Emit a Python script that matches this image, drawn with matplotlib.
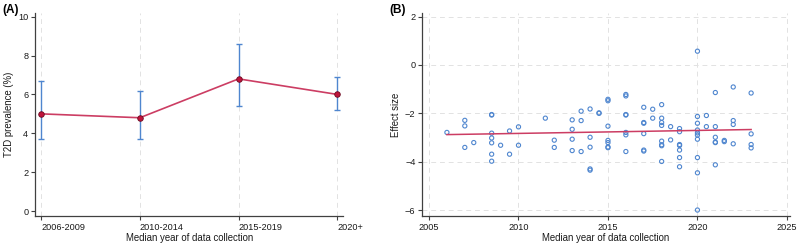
import numpy as np
import matplotlib.pyplot as plt
import matplotlib.transforms as mtransforms

plt.rcParams['font.family'] = ['Liberation Sans', 'DejaVu Sans']

# Panel A: prevalence by period
periods = ['2006-2009', '2010-2014', '2015-2019', '2020+']
prev = [5.0, 4.8, 6.8, 6.0]
prev_lo = [3.7, 3.7, 5.4, 5.2]
prev_hi = [6.7, 6.2, 8.6, 6.9]

# Panel B: effect sizes by median year
years = [2006, 2007, 2007, 2007, 2007.5,
         2008.5, 2008.5, 2008.5, 2008.5, 2008.5, 2008.5, 2008.5, 2009,
         2009.5, 2009.5, 2010, 2010,
         2011.5, 2012, 2012, 2013, 2013, 2013, 2013,
         2013.5, 2013.5, 2013.5, 2014, 2014, 2014, 2014, 2014, 2014.5, 2014.5,
         2015, 2015, 2015, 2015, 2015, 2015, 2015,
         2016, 2016, 2016, 2016, 2016, 2016, 2016,
         2017, 2017, 2017, 2017, 2017, 2017, 2017.5, 2017.5,
         2018, 2018, 2018, 2018, 2018, 2018, 2018, 2018, 2018.5, 2018.5,
         2019, 2019, 2019, 2019, 2019, 2019, 2019,
         2020, 2020, 2020, 2020, 2020, 2020, 2020, 2020, 2020, 2020,
         2020.5, 2020.5,
         2021, 2021, 2021, 2021, 2021, 2021, 2021.5, 2021.5,
         2022, 2022, 2022, 2022, 2023, 2023, 2023, 2023]
effects = [-2.79, -2.29, -2.52, -3.41, -3.21,
           -2.07, -2.05, -2.82, -3.02, -3.22, -3.69, -3.98, -3.32,
           -2.73, -3.69, -2.56, -3.32,
           -2.20, -3.11, -3.41, -2.27, -2.66, -3.07, -3.54,
           -1.91, -2.30, -3.58, -1.82, -2.99, -3.40, -4.30, -4.35, -1.98, -2.00,
           -1.42, -1.48, -2.53, -3.12, -3.21, -3.39, -3.42,
           -1.22, -1.28, -2.05, -2.07, -2.79, -2.89, -3.58,
           -1.75, -2.38, -2.41, -2.84, -3.52, -3.56, -1.83, -2.20,
           -1.64, -2.20, -2.38, -2.50, -3.15, -3.30, -3.34, -3.99, -2.55, -3.10,
           -2.63, -2.76, -3.29, -3.33, -3.52, -3.83, -4.21,
           0.57, -2.13, -2.41, -2.69, -2.81, -2.90, -3.07, -3.83, -4.46, -6.00,
           -2.09, -2.55,
           -1.14, -2.55, -2.99, -3.19, -4.13, -3.21, -3.12, -3.17,
           -0.91, -2.30, -2.46, -3.26, -1.16, -2.85, -3.29, -3.43]
fit_years = [2006, 2023]
fit_values = [-2.88, -2.67]

blue = '#4f86cf'
red = '#cc3d63'
ink = '#1a1a1a'
fs = 6.6
grid_kw = dict(color='#e2e2e2', linestyle=(0, (5, 4)), linewidth=0.7)

fig = plt.figure(figsize=(8, 2.45), dpi=100)
axA = fig.add_axes([0.044, 0.118, 0.385, 0.829])
axB = fig.add_axes([0.528, 0.118, 0.459, 0.829])

# ---- Panel A ----
xs = np.arange(1, len(periods) + 1)
prev = np.array(prev)
yerr = [prev - np.array(prev_lo), np.array(prev_hi) - prev]
for x in xs:
    axA.axvline(x, zorder=0, **grid_kw)
axA.errorbar(xs, prev, yerr=yerr, fmt='none', ecolor=blue, elinewidth=1.0,
             capsize=2.2, capthick=1.0, zorder=2)
axA.plot(xs, prev, color=red, lw=1.2, zorder=3)
axA.plot(xs, prev, 'o', color='#c0143c', mec='#6a0a20', mew=0.6, ms=4.0, zorder=4)
axA.set_xlim(0.94, 4.06)
axA.set_ylim(-0.26, 10.19)
axA.set_xticks(xs)
axA.set_xticklabels(periods, ha='left')
# labels start just left of their tick, as in the original
shift = mtransforms.ScaledTranslation(-3 / 100, 0, fig.dpi_scale_trans)
for lab in axA.get_xticklabels():
    lab.set_transform(lab.get_transform() + shift)
axA.set_yticks(range(0, 11, 2))
axA.set_ylabel('T2D prevalence (%)', fontsize=fs + 0.3, labelpad=3, color=ink)
axA.set_xlabel('Median year of data collection', fontsize=fs + 0.3, labelpad=1,
               color=ink)

# ---- Panel B ----
for y in range(-6, 3, 2):
    axB.axhline(y, zorder=0, **grid_kw)
for x in range(2005, 2026, 5):
    axB.axvline(x, zorder=0, **grid_kw)
axB.scatter(years, effects, s=9, facecolors='none', edgecolors=blue,
            linewidths=0.8, zorder=2)
axB.plot(fit_years, fit_values, color=red, lw=1.1, zorder=3)
axB.set_xlim(2004.63, 2025.15)
axB.set_ylim(-6.25, 2.15)
axB.set_xticks(range(2005, 2026, 5))
axB.set_yticks(range(-6, 3, 2))
axB.set_ylabel('Effect size', fontsize=fs + 0.3, labelpad=3, color=ink)
axB.set_xlabel('Median year of data collection', fontsize=fs + 0.3, labelpad=1,
               color=ink)

for ax in (axA, axB):
    for s in ('top', 'right'):
        ax.spines[s].set_visible(False)
    for s in ('left', 'bottom'):
        ax.spines[s].set_color('#404040')
        ax.spines[s].set_linewidth(0.9)
    ax.tick_params(labelsize=fs, length=3, width=0.8, color='#404040',
                   labelcolor=ink, pad=2)

fig.text(0.003, 0.985, '(A)', fontsize=8.5, fontweight='bold', va='top')
fig.text(0.487, 0.985, '(B)', fontsize=8.5, fontweight='bold', va='top')

fig.savefig('out.png', dpi=100)
